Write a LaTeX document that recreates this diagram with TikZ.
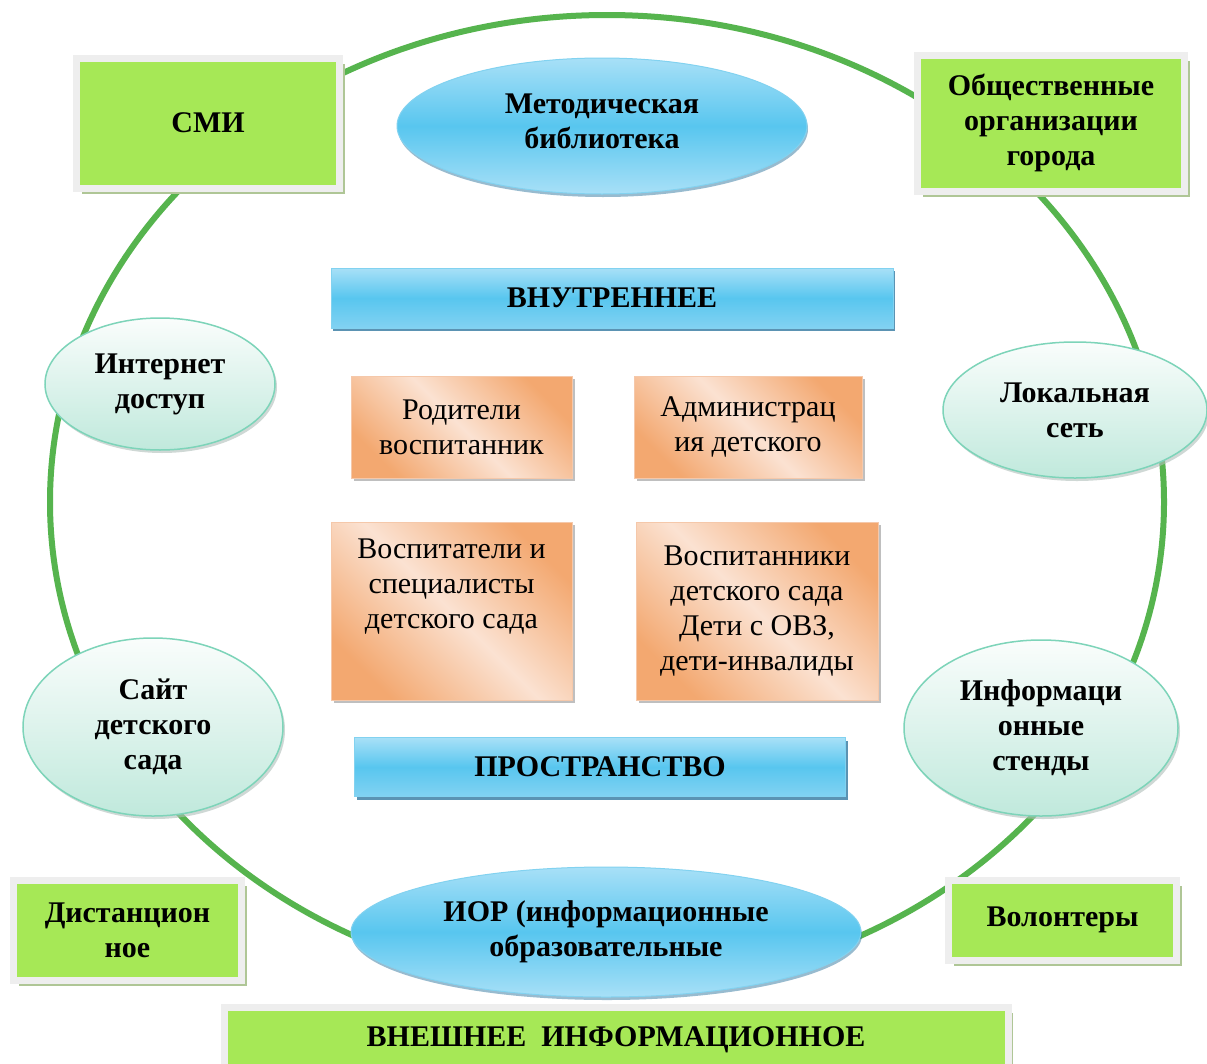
\documentclass[tikz,border=0pt]{standalone}
\usepackage{fontspec}
\setmainfont{Liberation Serif}
\usetikzlibrary{shapes.geometric,shadows}
\definecolor{ringgreen}{RGB}{86,180,78}
\definecolor{boxgreen}{RGB}{166,232,86}
\definecolor{framegray}{RGB}{238,238,238}
\definecolor{gshadow}{RGB}{175,198,150}
\definecolor{blueL}{RGB}{168,224,247}
\definecolor{blueM}{RGB}{88,198,239}
\definecolor{blueB}{RGB}{130,210,242}
\definecolor{blueEdge}{RGB}{130,210,240}
\definecolor{blueShadow}{RGB}{50,120,160}
\definecolor{mintTop}{RGB}{250,253,252}
\definecolor{mintBot}{RGB}{192,233,220}
\definecolor{mintEdge}{RGB}{125,212,185}
\definecolor{mintShadow}{RGB}{175,190,185}
\definecolor{orangeD}{RGB}{243,168,112}
\definecolor{orangeL}{RGB}{251,226,210}
\definecolor{orangeEdge}{RGB}{245,200,170}
\definecolor{oshadow}{RGB}{175,175,175}
\tikzset{
  lbl/.style={font=\fontsize{30}{35}\selectfont\bfseries, align=center, text=black},
  gbox/.style={rectangle, fill=boxgreen, draw=framegray, line width=7pt, inner sep=0pt, lbl,
    drop shadow={shadow xshift=5pt, shadow yshift=-6pt, fill=gshadow, opacity=1}},
  bell/.style={ellipse, inner sep=0pt, draw=blueEdge, line width=1pt,
    top color=blueL, bottom color=blueL, middle color=blueM, lbl,
    drop shadow={shadow xshift=1pt, shadow yshift=-3pt, fill=blueShadow, opacity=0.5}},
  mell/.style={ellipse, inner sep=0pt, draw=mintEdge, line width=1.5pt,
    top color=mintTop, bottom color=mintBot, lbl,
    drop shadow={shadow xshift=2pt, shadow yshift=-3pt, fill=mintShadow, opacity=0.6}},
  bbar/.style={rectangle, inner sep=0pt, draw=blueEdge, line width=1pt,
    top color=blueL, bottom color=blueB, middle color=blueM, lbl,
    drop shadow={shadow xshift=2pt, shadow yshift=-3pt, fill=blueShadow, opacity=0.8}},
  obox/.style={rectangle, inner sep=0pt, draw=orangeEdge, line width=1pt,
    left color=orangeD, right color=orangeD, middle color=orangeL, shading angle=135,
    font=\fontsize{30}{35}\selectfont, align=center, text=black,
    drop shadow={shadow xshift=3pt, shadow yshift=-3pt, fill=oshadow, opacity=0.8}},
  otext/.style={font=\fontsize{30}{35}\selectfont, align=center, text=black},
  ring/.style={draw=ringgreen, line width=6pt}
}
\begin{document}
\begin{tikzpicture}[x=1pt,y=-1pt]
\useasboundingbox (0,0) rectangle (1207,1063);
\fill[white] (0,0) rectangle (1207,1063);
% outer ring
\draw[ring] (607,502) ellipse [x radius=557, y radius=487];

% green boxes
\node[gbox, minimum width=263, minimum height=130] (smi) at (208,123) {СМИ};
\node[gbox, minimum width=267, minimum height=136] (obsch) at (1051,123) {Общественные\\организации\\города};
\node[gbox, minimum width=228, minimum height=100] (dist) at (127.5,930) {Дистанцион\\ное};
\node[gbox, minimum width=228, minimum height=80] (vol) at (1062.5,920) {Волонтеры};
\node[gbox, minimum width=784, minimum height=66] (vnesh) at (616,1040) {ВНЕШНЕЕ\ \ ИНФОРМАЦИОННОЕ};

% blue ellipses
\node[bell, minimum width=410, minimum height=136] (metod) at (602,126) {};
\node[lbl] (metodtxt) at ([yshift=5pt]metod.center) {Методическая\\библиотека};
\node[bell, minimum width=510, minimum height=130] (ior) at (606,932) {ИОР (информационные\\образовательные};

% mint ellipses
\node[mell, minimum width=230, minimum height=132] (inet) at (160,384) {Интернет\\доступ};
\node[mell, minimum width=264, minimum height=136] (lok) at (1075,410) {Локальная\\сеть};
\node[mell, minimum width=260, minimum height=178] (sait) at (153,727) {Сайт\\детского\\сада};
\node[mell, minimum width=274, minimum height=176] (stend) at (1041,728) {Информаци\\онные\\стенды};

% blue bars
\node[bbar, minimum width=562, minimum height=60] (vnutr) at (612,298) {ВНУТРЕННЕЕ};
\node[bbar, minimum width=491, minimum height=59] (prostr) at (600,767) {ПРОСТРАНСТВО};

% orange boxes
\node[obox, minimum width=221, minimum height=102] (rod) at (461.5,427) {Родители\\воспитанник};
\node[obox, minimum width=228, minimum height=102] (adm) at (748,427) {Администрац\\ия детского};
\node[obox, minimum width=241, minimum height=178] (vosp) at (451.5,611) {};
\node[otext] (vosptxt) at ([yshift=24pt]vosp.center) {Воспитатели и\\специалисты\\детского сада};
\node[obox, minimum width=242, minimum height=178] (vospit) at (757,611) {Воспитанники\\детского сада\\Дети с ОВЗ,\\дети-инвалиды};
\end{tikzpicture}
\end{document}
